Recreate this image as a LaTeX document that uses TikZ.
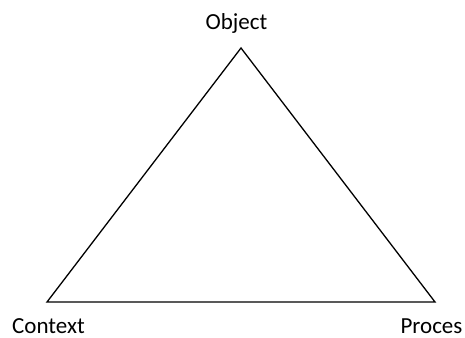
\documentclass[tikz,border=0pt]{standalone}
\usepackage{fontspec}
\setmainfont{Carlito}
\begin{document}
\begin{tikzpicture}[x=1pt,y=1pt,
  lbl/.style={inner sep=0pt, anchor=base, font=\fontsize{23}{27}\selectfont},
  edge/.style={line width=1.3pt, line join=miter}]
\useasboundingbox (0,0) rectangle (465,337);
\coordinate (A) at (241,289);
\coordinate (B) at (47,35);
\coordinate (C) at (435,35);
\draw[edge] (A) -- (B) -- (C) -- cycle;
\node[lbl] (obj) at (236.5,307) {Object};
\node[lbl] (ctx) at (48.5,4) {Context};
\node[lbl] (pro) at (431.5,4) {Proces};
\end{tikzpicture}
\end{document}
